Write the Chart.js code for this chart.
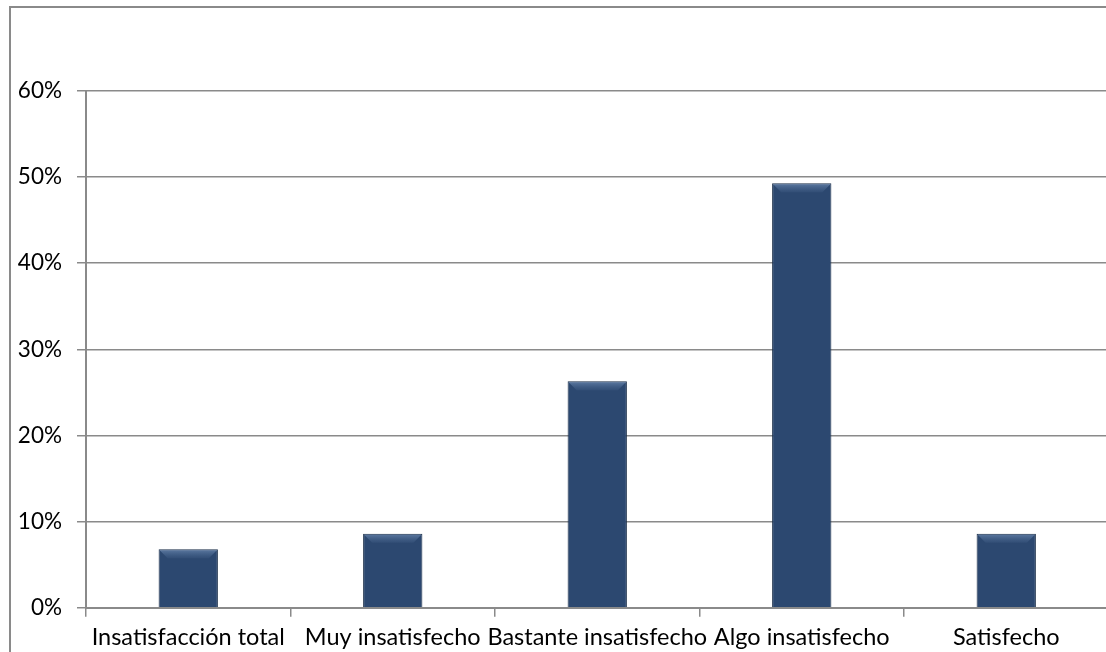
<!DOCTYPE html>
<html>
<head>
<meta charset="utf-8">
<script src="https://cdn.jsdelivr.net/npm/chart.js@4"></script>
<style>
  html, body { margin: 0; padding: 0; background: #fff; overflow: hidden; }
  #wrap { position: relative; width: 1106px; height: 652px; overflow: hidden; }
  #frame { position: absolute; left: 9px; top: 6px; width: 1200px; height: 800px;
           border: 2px solid #8a8a8a; pointer-events: none; }
  #chart { position: absolute; left: 0; top: 0; }
</style>
</head>
<body>
<div id="wrap">
  <canvas id="chart" width="1120" height="652"></canvas>
  <div id="frame"></div>
</div>
<script>
const categories = ["Insatisfacción total", "Muy insatisfecho", "Bastante insatisfecho", "Algo insatisfecho", "Satisfecho"];
const values = [6.8, 8.6, 26.3, 49.3, 8.6];
const yTicks = [0, 10, 20, 30, 40, 50, 60];

// soft bevel on top of each bar
const bevel = {
  id: "bevel",
  afterDatasetsDraw(chart) {
    const ctx = chart.ctx;
    chart.getDatasetMeta(0).data.forEach(bar => {
      const l = bar.x - bar.width / 2, r = bar.x + bar.width / 2, t = bar.y;
      const d = 9;
      ctx.save();
      const g = ctx.createLinearGradient(0, t, 0, t + d);
      g.addColorStop(0, "rgba(130,160,200,0.6)");
      g.addColorStop(1, "rgba(90,120,160,0.15)");
      ctx.fillStyle = g;
      ctx.beginPath();
      ctx.moveTo(l + 1, t + 1); ctx.lineTo(r - 1, t + 1);
      ctx.lineTo(r - d, t + d); ctx.lineTo(l + d, t + d);
      ctx.closePath(); ctx.fill();
      ctx.restore();
    });
  }
};

new Chart(document.getElementById("chart"), {
  type: "bar",
  data: {
    labels: categories,
    datasets: [{
      data: values,
      backgroundColor: (c) => {
        const a = c.chart.chartArea;
        const el = c.element;
        if (!a || !el || !el.width) return "#2c4870";
        const g = c.chart.ctx.createLinearGradient(el.x - el.width / 2, 0, el.x + el.width / 2, 0);
        g.addColorStop(0, "#23395a");
        g.addColorStop(0.15, "#2d4a71");
        g.addColorStop(0.85, "#2d4a71");
        g.addColorStop(1, "#213757");
        return g;
      },
      borderColor: "#1b2f4a",
      borderWidth: 1,
      categoryPercentage: 1,
      barPercentage: 0.29
    }]
  },
  options: {
    responsive: false,
    animation: false,
    layout: { padding: { top: 91, right: 11.5, left: 0, bottom: 0 } },
    plugins: { legend: { display: false }, tooltip: { enabled: false } },
    scales: {
      x: {
        offset: true,
        afterFit: (s) => { s.height = 44.3; },
        grid: { display: true, drawOnChartArea: false, offset: true, tickLength: 9, color: "#8a8a8a", lineWidth: 1.5 },
        border: { display: true, color: "#8a8a8a", width: 2 },
        ticks: { color: "#000", padding: 7, maxRotation: 0, autoSkip: false,
                 font: { family: "Lato", size: 23.5 } }
      },
      y: {
        min: 0, max: 60,
        afterFit: (s) => { s.width = 86; },
        afterBuildTicks: (s) => { s.ticks = yTicks.map(v => ({ value: v })); },
        grid: { color: "#8a8a8a", lineWidth: 1.5, tickLength: 9 },
        border: { display: true, color: "#8a8a8a", width: 2 },
        ticks: { color: "#000", padding: 15, callback: (v) => v + "%",
                 font: { family: "Lato", size: 22.5 } }
      }
    }
  },
  plugins: [bevel]
});
</script>
</body>
</html>
